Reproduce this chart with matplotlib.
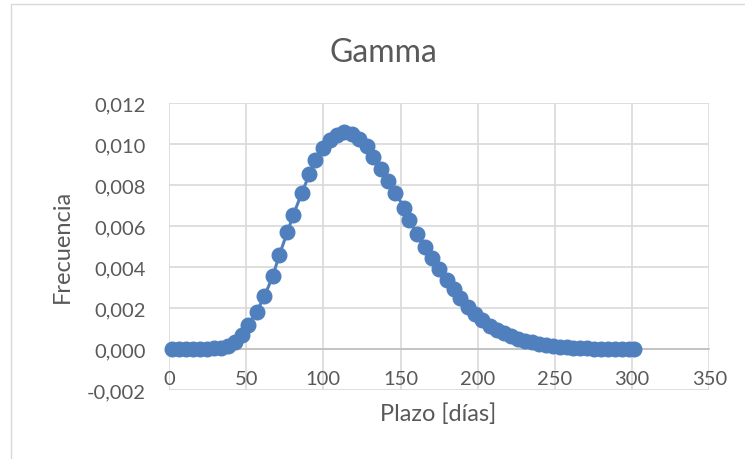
import matplotlib
matplotlib.use("Agg")
import matplotlib.pyplot as plt
from matplotlib.patches import Rectangle
from matplotlib.ticker import FuncFormatter

plt.rcParams['font.family'] = ['Lato', 'DejaVu Sans']

title = "Gamma"
xlabel = "Plazo [días]"
ylabel = "Frecuencia"

plazo = [2, 6.5, 11, 15.5, 20, 24.5, 29, 33.5, 38, 42.5, 47, 51.4, 56.8, 61.8,
         67.2, 71.5, 76.7, 80.6, 86, 90.9, 94.6, 100, 104.3, 108.7, 113.6, 118.4,
         123.3, 128.1, 132.4, 137.4, 141.7, 146.5, 152.5, 155.7, 160.5, 165.9,
         170.2, 175.2, 180, 184.3, 188.6, 194, 198, 203, 208, 212.5, 217, 221.5,
         226, 230.5, 235, 239.5, 244, 248.5, 253, 257.5, 262, 266.5, 271, 275.5,
         280, 284.5, 289, 293.5, 298, 301]
frecuencia = [0, 0, 0, 0, 0, 0.00001, 0.00003, 0.00007, 0.00015, 0.00032, 0.00068,
              0.00118, 0.00180, 0.00258, 0.00354, 0.00460, 0.00570, 0.00656,
              0.00760, 0.00852, 0.00920, 0.00980, 0.01020, 0.01045, 0.01057,
              0.01050, 0.01025, 0.00990, 0.00935, 0.00880, 0.00820, 0.00760,
              0.00690, 0.00630, 0.00560, 0.00500, 0.00445, 0.00388, 0.00335,
              0.00292, 0.00250, 0.00205, 0.00170, 0.00140, 0.00112, 0.00092,
              0.00076, 0.00062, 0.00050, 0.00040, 0.00032, 0.00025, 0.00019,
              0.00015, 0.00011, 0.00008, 0.00006, 0.00004, 0.00003, 0.00002,
              0.00001, 0.00001, 0, 0, 0, 0]

xticks = [0, 50, 100, 150, 200, 250, 300, 350]
yticks = [-0.002, 0, 0.002, 0.004, 0.006, 0.008, 0.010, 0.012]

TXT = "#595959"
GRID = "#d9d9d9"
BLUE = "#4F80BD"

fig = plt.figure(figsize=(7.45, 4.6), dpi=100)
W, H = 745, 460
fig.patches.append(Rectangle((11 / W, -0.1), 1.2, 1.1 - 5 / H + 0.0, transform=fig.transFigure,
                             fill=False, edgecolor=GRID, linewidth=1.0))

ax = fig.add_axes([169 / W, 1 - 391 / H, (709.3 - 169) / W, (391 - 104) / H])
ax.plot(plazo, frecuencia, color=BLUE, linewidth=2.2, marker='o', markersize=10.5,
        markerfacecolor=BLUE, markeredgecolor=BLUE, zorder=3, clip_on=False)

ax.set_xlim(0, 350)
ax.set_ylim(-0.002, 0.012)
ax.set_xticks(xticks)
ax.set_yticks(yticks)
ax.yaxis.set_major_formatter(FuncFormatter(lambda v, p: f"{v:.3f}".replace(".", ",").replace("-0,000", "0,000")))
ax.xaxis.set_major_formatter(FuncFormatter(lambda v, p: f"{int(v)}"))

ax.grid(True, color=GRID, linewidth=1.2, zorder=0)
ax.set_axisbelow(True)
for s in ['top', 'right', 'left']:
    ax.spines[s].set_visible(False)
ax.spines['bottom'].set_position(('data', 0))
ax.spines['bottom'].set_color("#bfbfbf")
ax.spines['bottom'].set_linewidth(1.2)
ax.spines['bottom'].set_zorder(1)

ax.tick_params(axis='x', length=0, pad=15, labelsize=14.5, labelcolor=TXT)
ax.tick_params(axis='y', length=0, pad=17, labelsize=14.5, labelcolor=TXT)

fig.text(383 / W, 1 - 62 / H, title, ha='center', va='baseline', fontsize=23, color=TXT)
fig.text(438.5 / W, 1 - 421.5 / H, xlabel, ha='center', va='baseline', fontsize=17, color=TXT)
fig.text(62 / W, 1 - 246 / H, ylabel, ha='center', va='center', rotation=90, fontsize=17, color=TXT)

fig.savefig("out.png", dpi=100)
